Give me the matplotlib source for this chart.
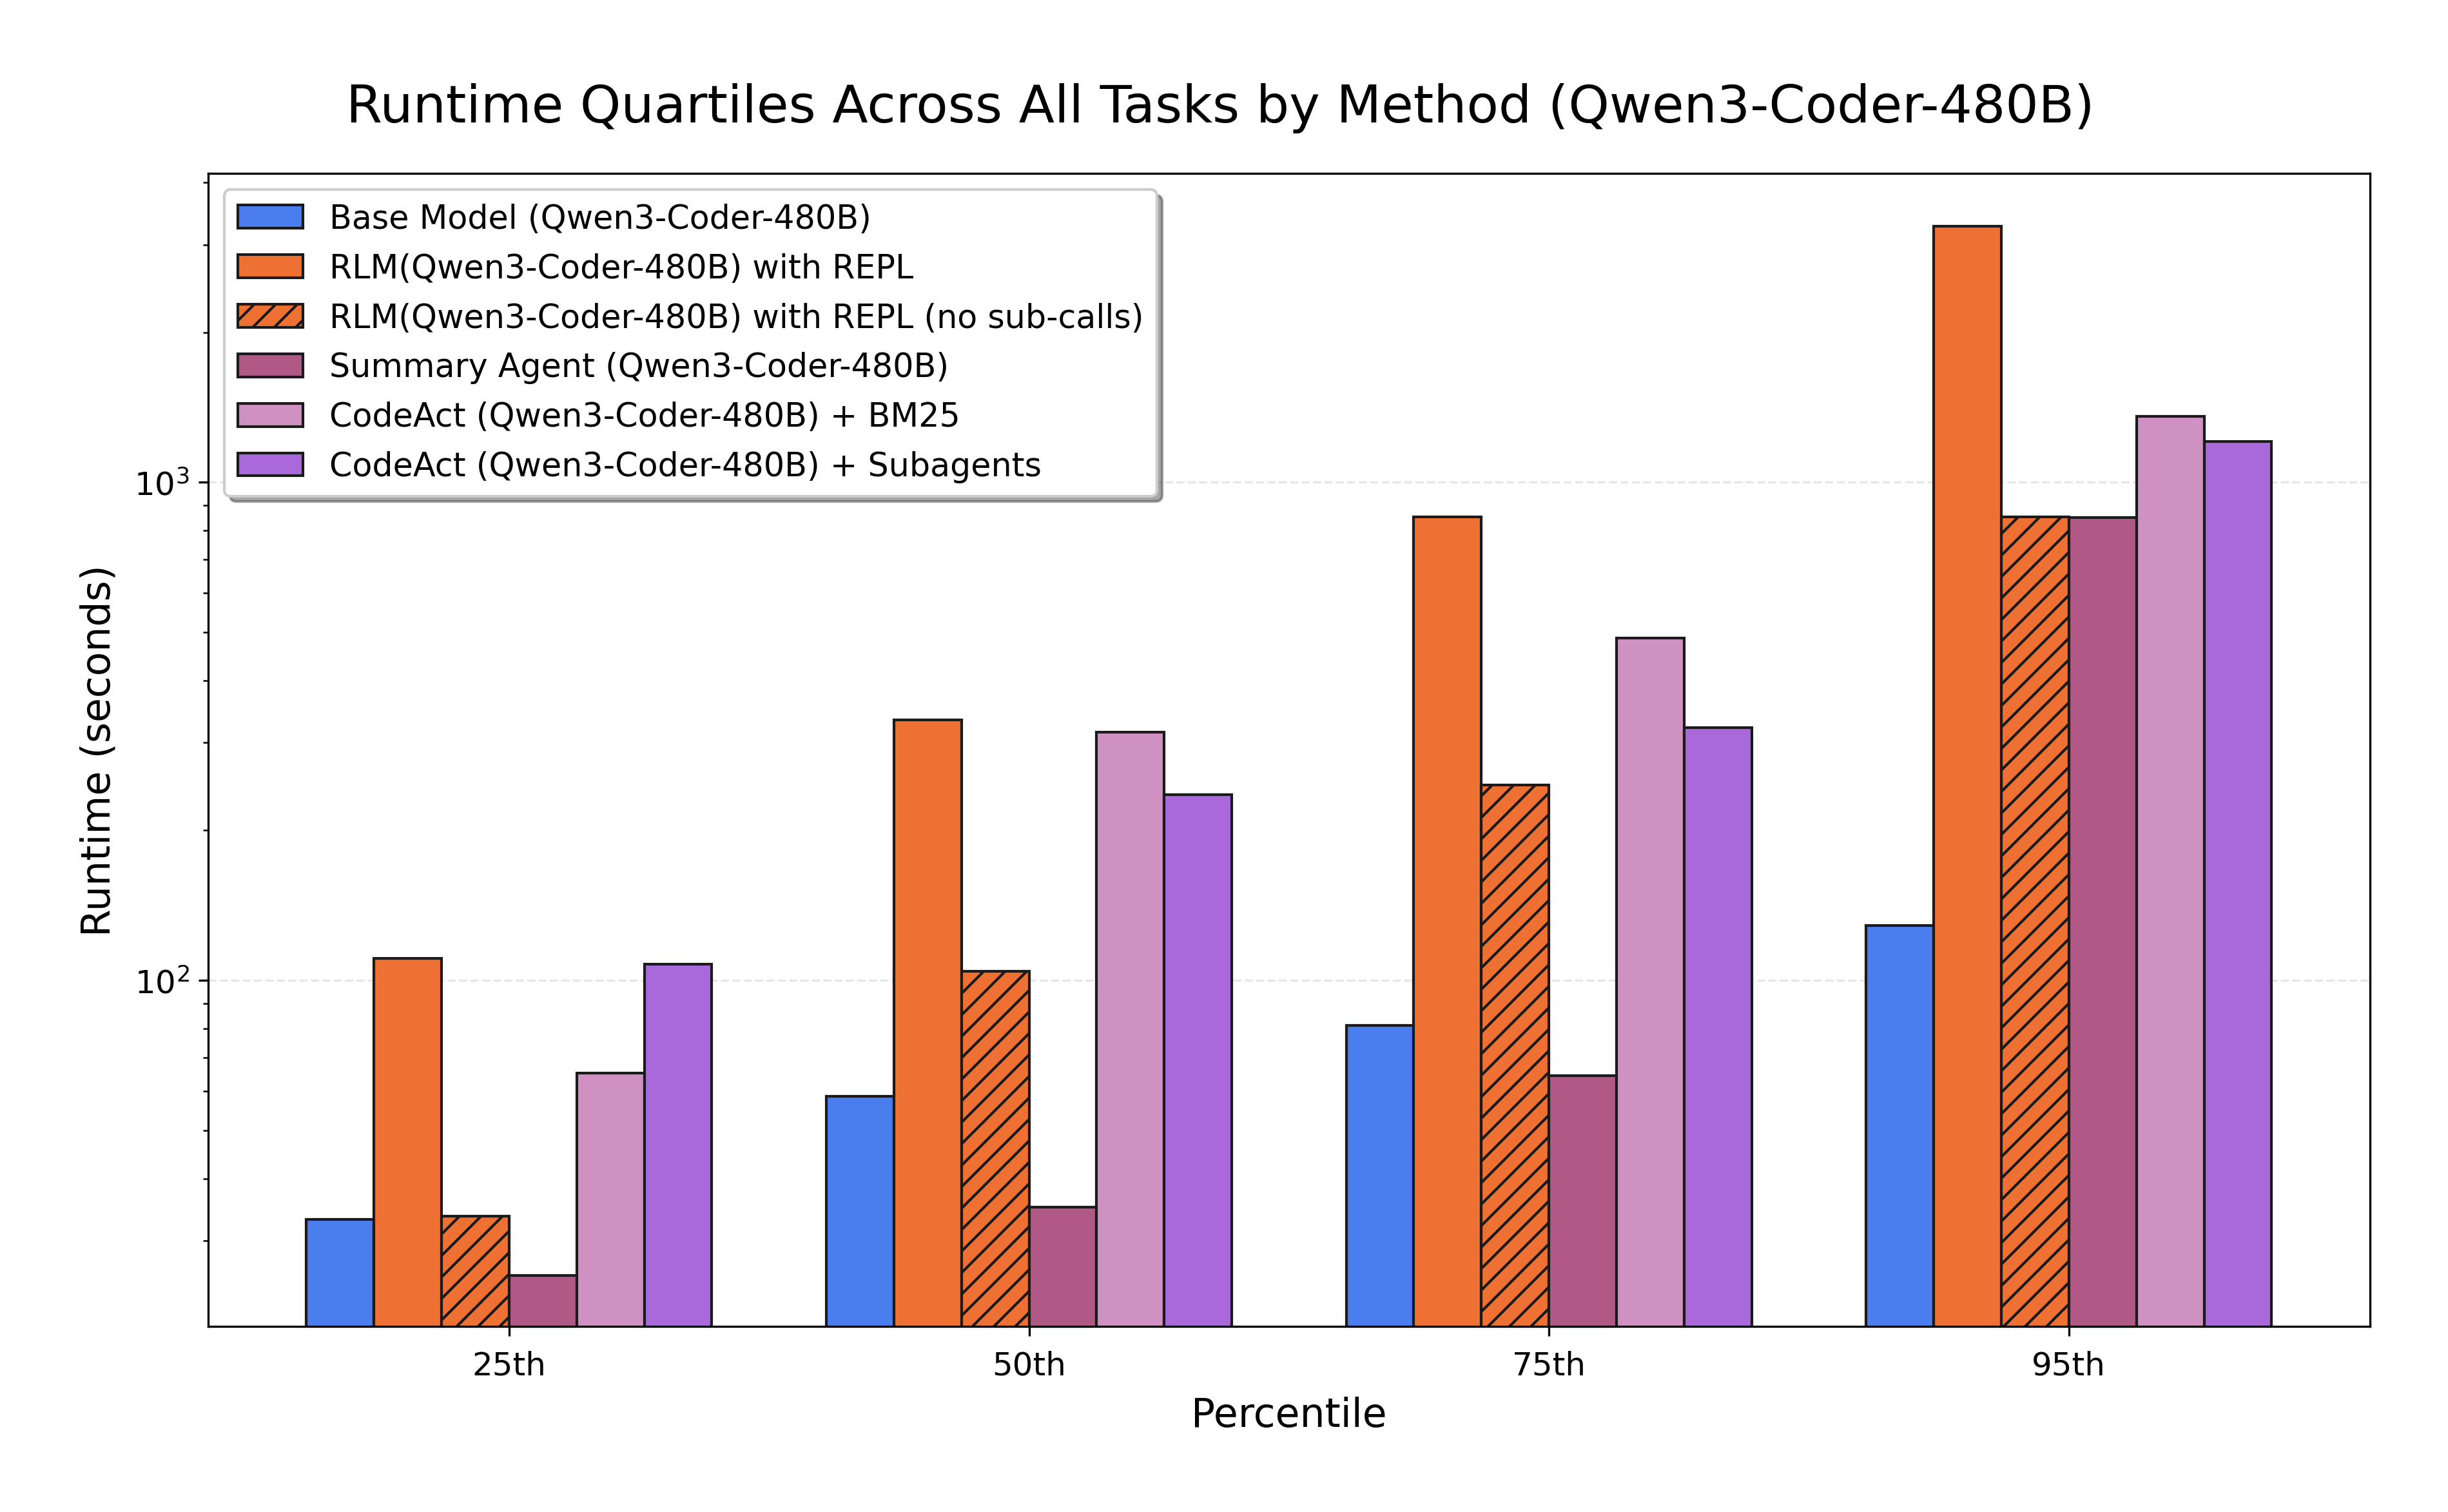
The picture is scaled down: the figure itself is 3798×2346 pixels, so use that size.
import numpy as np
import matplotlib
matplotlib.use("Agg")
import matplotlib.pyplot as plt

percentiles = ["25th", "50th", "75th", "95th"]

methods = [
    "Base Model (Qwen3-Coder-480B)",
    "RLM(Qwen3-Coder-480B) with REPL",
    "RLM(Qwen3-Coder-480B) with REPL (no sub-calls)",
    "Summary Agent (Qwen3-Coder-480B)",
    "CodeAct (Qwen3-Coder-480B) + BM25",
    "CodeAct (Qwen3-Coder-480B) + Subagents",
]

# runtime in seconds
base_model = [33.1, 58.6, 81.1, 128.8]
rlm_repl = [110.8, 333.8, 853.0, 3269.0]
rlm_no_sub = [33.6, 104.4, 246.6, 853.0]
summary_agent = [25.6, 35.1, 64.4, 849.0]
codeact_bm25 = [65.2, 315.0, 486.0, 1355.0]
codeact_sub = [107.9, 236.0, 322.0, 1207.0]

series = [base_model, rlm_repl, rlm_no_sub, summary_agent, codeact_bm25, codeact_sub]
colors = ["#4a7dee", "#ee7133", "#ee7133", "#b05886", "#cf90c2", "#aa69db"]
hatches = [None, None, "///", None, None, None]

fig = plt.figure(figsize=(12.66, 7.823), dpi=300)
ax = fig.add_axes([0.0850, 0.1227, 0.8831, 0.7623])

x = np.arange(len(percentiles))
width = 0.13

for i, vals in enumerate(series):
    ax.bar(x + (i - 2.5) * width, vals, width, label=methods[i],
           color=colors[i], edgecolor="#1a1a1a", linewidth=1.0,
           hatch=hatches[i])

ax.set_yscale("log")
ax.set_ylim(20.2, 4170)
ax.set_xticks(x)
ax.set_xticklabels(percentiles, fontsize=12)
ax.tick_params(axis="x", pad=5.2)
ax.tick_params(axis="y", labelsize=12)
ax.set_xlabel("Percentile", fontsize=14.8, labelpad=5.7)
ax.set_ylabel("Runtime (seconds)", fontsize=14.8, labelpad=6)
fig.text(0.4985, 0.919, "Runtime Quartiles Across All Tasks by Method (Qwen3-Coder-480B)",
         fontsize=19.4, ha="center", va="baseline")
ax.grid(axis="y", which="major", linestyle="--", alpha=0.3)
ax.set_axisbelow(True)
ax.legend(loc="upper left", fontsize=12.2, labelspacing=0.53,
          shadow=True, fancybox=True)

fig.savefig("out.png", dpi=300)
